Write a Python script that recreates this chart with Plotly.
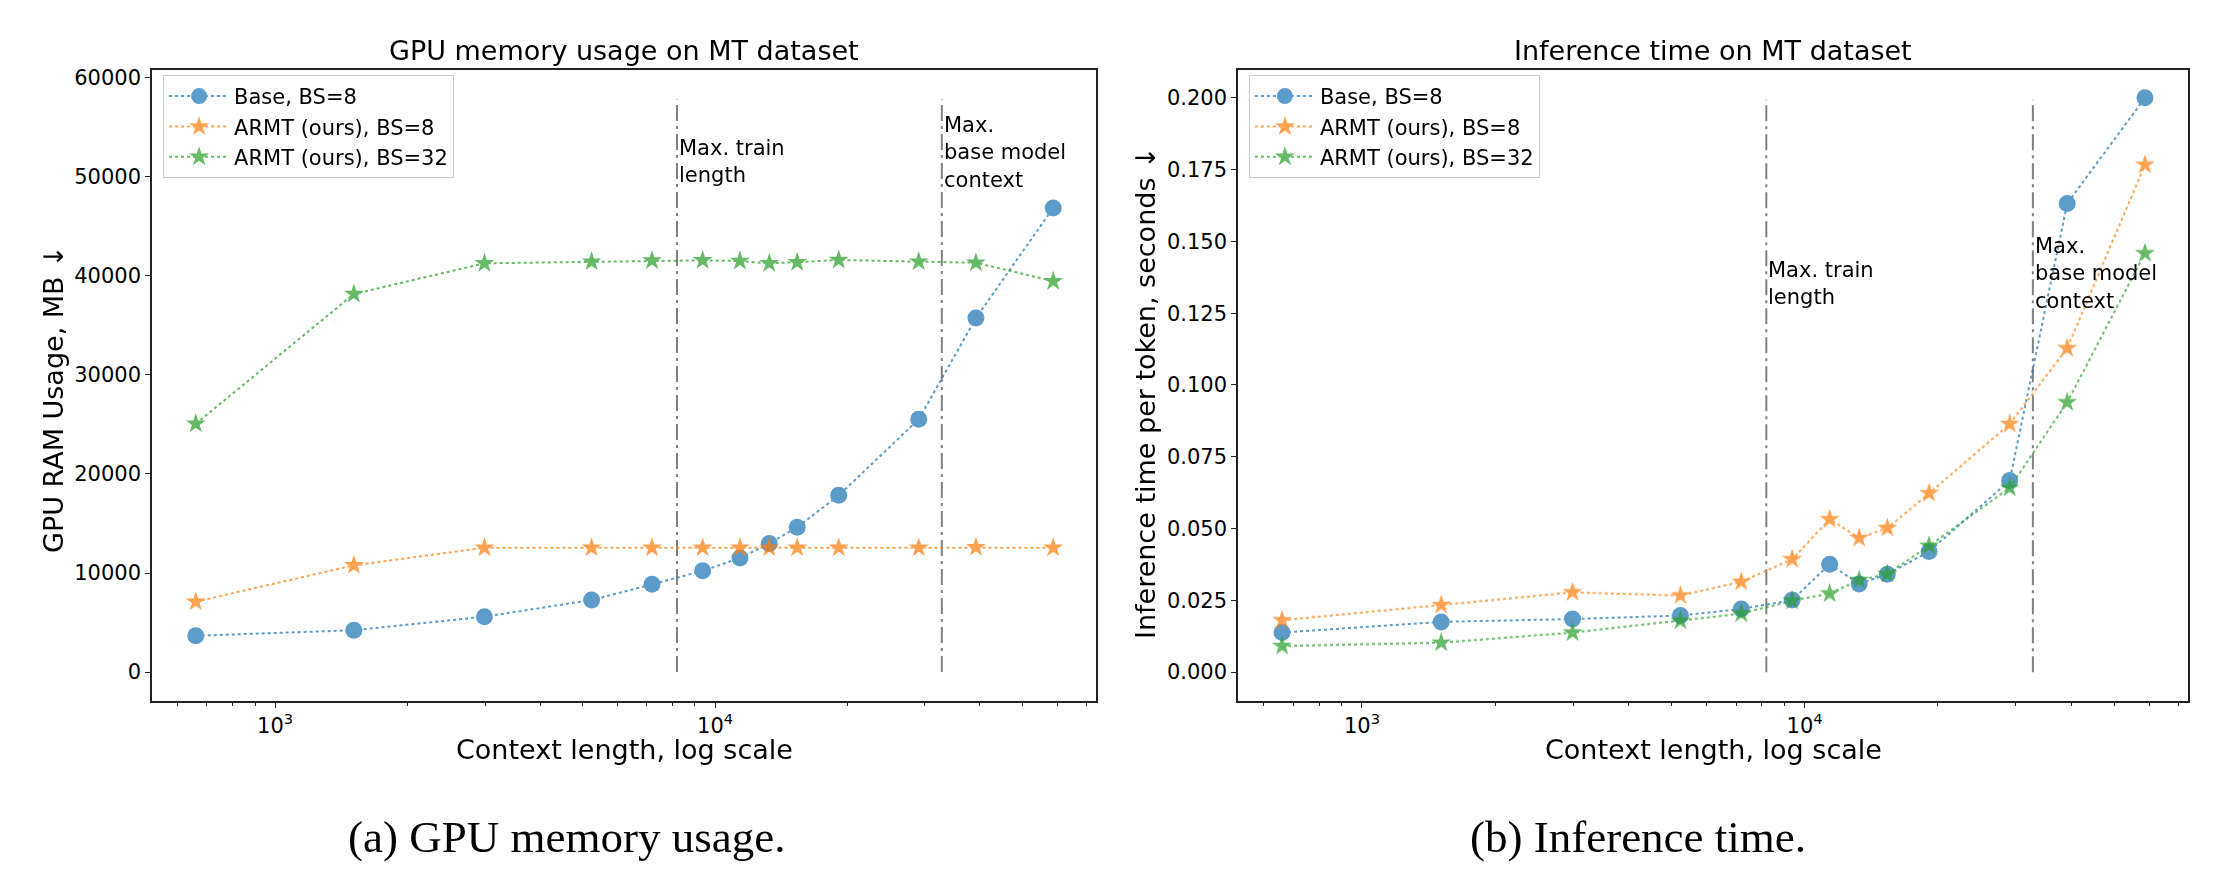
import math
import plotly.graph_objects as go

# ---------------- data ----------------
context_len = [660, 1510, 2990, 5240, 7190, 9370, 11390, 13280, 15370, 19100, 29040, 39170, 58700]

mem_base_bs8 = [3670, 4230, 5590, 7280, 8860, 10220, 11510, 12980, 14620, 17840, 25510, 35730, 46850]
mem_armt_bs8 = [7110, 10780, 12550, 12550, 12550, 12550, 12550, 12550, 12550, 12550, 12550, 12600, 12550]
mem_armt_bs32 = [25060, 38160, 41260, 41430, 41540, 41560, 41490, 41260, 41370, 41600, 41430, 41320, 39460]

time_base_bs8 = [0.0138, 0.0175, 0.0185, 0.0197, 0.0220, 0.0251, 0.0376, 0.0307, 0.0341, 0.0420, 0.0667, 0.1632, 0.2000]
time_armt_bs8 = [0.0181, 0.0234, 0.0278, 0.0267, 0.0315, 0.0393, 0.0533, 0.0467, 0.0502, 0.0623, 0.0864, 0.1128, 0.1767]
time_armt_bs32 = [0.0091, 0.0103, 0.0138, 0.0179, 0.0204, 0.0249, 0.0274, 0.0321, 0.0342, 0.0440, 0.0642, 0.0940, 0.1459]

series_names = ["Base, BS=8", "ARMT (ours), BS=8", "ARMT (ours), BS=32"]
series_colors = ["#1f77b4", "#ff7f0e", "#2ca02c"]
series_symbols = ["circle", "star", "star"]
series_sizes = [17, 15, 15]

max_train_len = 8192
max_base_ctx = 32768
vline_top_mem = 57800
vline_top_time = 0.1993

mem_ticks = [0, 10000, 20000, 30000, 40000, 50000, 60000]
time_ticks = [0, 0.025, 0.05, 0.075, 0.1, 0.125, 0.15, 0.175, 0.2]
x_tickvals = [1000, 10000]
x_ticktext = ["10<sup>3</sup>", "10<sup>4</sup>"]
x_minor = [600, 700, 800, 900, 2000, 3000, 4000, 5000, 6000, 7000, 8000, 9000,
           20000, 30000, 40000, 50000, 60000, 70000]

FONT = "DejaVu Sans"
fig = go.Figure()

panels = [
    ("x", "y", "legend", [mem_base_bs8, mem_armt_bs8, mem_armt_bs32], vline_top_mem),
    ("x2", "y2", "legend2", [time_base_bs8, time_armt_bs8, time_armt_bs32], vline_top_time),
]

for xa, ya, leg, ys, vtop in panels:
    for xv in [max_train_len, max_base_ctx]:
        fig.add_trace(go.Scatter(
            x=[xv, xv], y=[0, vtop], mode="lines", xaxis=xa, yaxis=ya,
            line=dict(color="#808080", width=2, dash="16px,5px,3px,5px"),
            showlegend=False, hoverinfo="skip"))
    for i in range(3):
        fig.add_trace(go.Scatter(
            x=context_len, y=ys[i], mode="lines+markers", name=series_names[i],
            xaxis=xa, yaxis=ya, legend=leg, legendgroup=f"{leg}_{i}",
            opacity=0.72,
            line=dict(color=series_colors[i], width=2, dash="dot"),
            marker=dict(symbol=series_symbols[i], size=series_sizes[i], color=series_colors[i])))

axis_common = dict(
    showline=True, mirror=True, linecolor="#222222", linewidth=1.5,
    ticks="outside", ticklen=5, tickwidth=1.2, tickcolor="#222222",
    showgrid=False, zeroline=False,
    tickfont=dict(family=FONT, size=21, color="black"),
)
xaxis_common = dict(axis_common, type="log", range=[2.72, 4.866],
                    tickvals=x_tickvals, ticktext=x_ticktext,
                    minor=dict(tickvals=x_minor, ticks="outside", ticklen=3,
                               tickwidth=1, tickcolor="#222222"))

legend_common = dict(xanchor="left", yanchor="top", y=0.919,
                     bgcolor="rgba(255,255,255,0.8)", bordercolor="#cccccc", borderwidth=1,
                     font=dict(family=FONT, size=21), tracegroupgap=0, traceorder="grouped",
                     itemwidth=60)

fig.update_layout(
    width=2225, height=880,
    margin=dict(l=0, r=0, t=0, b=0),
    paper_bgcolor="white", plot_bgcolor="white",
    font=dict(family=FONT, color="black"),
    xaxis=dict(xaxis_common, domain=[0.0683, 0.4926], anchor="y"),
    yaxis=dict(axis_common, domain=[0.2045, 0.925], anchor="x",
               range=[-2900, 60800], tickvals=mem_ticks, tickformat="d"),
    xaxis2=dict(xaxis_common, domain=[0.5564, 0.9834], anchor="y2"),
    yaxis2=dict(axis_common, domain=[0.2045, 0.925], anchor="x2",
                range=[-0.0100, 0.2098], tickvals=time_ticks, tickformat=".3f"),
    legend=dict(legend_common, x=0.0733),
    legend2=dict(legend_common, x=0.5613),
)

ann = []
# titles
ann.append(dict(text="GPU memory usage on MT dataset", x=0.2805, y=0.9466, xref="paper", yref="paper",
                showarrow=False, font=dict(family=FONT, size=27), xanchor="center", yanchor="middle"))
ann.append(dict(text="Inference time on MT dataset", x=0.7699, y=0.9466, xref="paper", yref="paper",
                showarrow=False, font=dict(family=FONT, size=27), xanchor="center", yanchor="middle"))
# x titles
for xc in [0.2805, 0.7699]:
    ann.append(dict(text="Context length, log scale", x=xc, y=0.149, xref="paper", yref="paper",
                    showarrow=False, font=dict(family=FONT, size=27), xanchor="center", yanchor="middle"))
# y titles
ann.append(dict(text="GPU RAM Usage, MB ↓", x=0.0238, y=0.549, xref="paper", yref="paper",
                showarrow=False, textangle=-90, font=dict(family=FONT, size=27),
                xanchor="center", yanchor="middle"))
ann.append(dict(text="Inference time per token, seconds ↓", x=0.5146, y=0.557, xref="paper", yref="paper",
                showarrow=False, textangle=-90, font=dict(family=FONT, size=27),
                xanchor="center", yanchor="middle"))
# vline labels (log axes: annotation x in log10 units)
lx_train = math.log10(max_train_len)
lx_base = math.log10(max_base_ctx)
ann.append(dict(text="Max. train<br>length", x=lx_train, y=54270, xref="x", yref="y",
                showarrow=False, align="left", xanchor="left", yanchor="top",
                font=dict(family=FONT, size=21)))
ann.append(dict(text="Max.<br>base model<br>context", x=lx_base, y=56680, xref="x", yref="y",
                showarrow=False, align="left", xanchor="left", yanchor="top",
                font=dict(family=FONT, size=21)))
ann.append(dict(text="Max. train<br>length", x=lx_train, y=0.1450, xref="x2", yref="y2",
                showarrow=False, align="left", xanchor="left", yanchor="top",
                font=dict(family=FONT, size=21)))
ann.append(dict(text="Max.<br>base model<br>context", x=lx_base, y=0.1533, xref="x2", yref="y2",
                showarrow=False, align="left", xanchor="left", yanchor="top",
                font=dict(family=FONT, size=21)))
# captions
ann.append(dict(text="(a) GPU memory usage.", x=0.2544, y=0.0489, xref="paper", yref="paper",
                showarrow=False, font=dict(family="Liberation Serif", size=45),
                xanchor="center", yanchor="middle"))
ann.append(dict(text="(b) Inference time.", x=0.7362, y=0.0489, xref="paper", yref="paper",
                showarrow=False, font=dict(family="Liberation Serif", size=45),
                xanchor="center", yanchor="middle"))
fig.update_layout(annotations=ann)

fig.write_html("out.html")
